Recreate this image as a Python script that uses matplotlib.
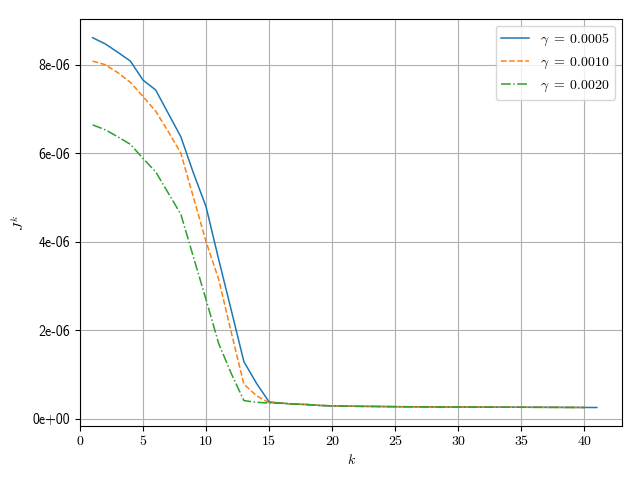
import numpy as np
from matplotlib import pyplot as plt

plt.rcParams['mathtext.fontset'] = 'cm'

gammas = ["0.0005", "0.0010", "0.0020"]
styles = ['-', '--', '-.']

tail = [0.35, 0.33, 0.32, 0.30, 0.29, 0.285, 0.28, 0.278, 0.275, 0.272,
        0.27, 0.268, 0.266, 0.265, 0.264, 0.263, 0.262, 0.261, 0.26, 0.259,
        0.258, 0.257, 0.256, 0.255, 0.254]

j_a = [8.61, 8.47, 8.28, 8.08, 7.65, 7.43, 6.90, 6.37, 5.55, 4.79,
       3.60, 2.45, 1.29, 0.80, 0.38] + tail + [0.253]
j_b = [8.08, 8.00, 7.82, 7.60, 7.28, 6.95, 6.49, 6.00, 5.00, 4.00,
       3.15, 1.95, 0.78, 0.52, 0.36] + tail
j_c = [6.64, 6.53, 6.37, 6.20, 5.88, 5.58, 5.10, 4.62, 3.65, 2.69,
       1.70, 1.02, 0.41, 0.37, 0.355] + tail


def main():
    fig, ax = plt.subplots(figsize=(6.4, 4.8), dpi=100)
    for vals, g, ls in zip([j_a, j_b, j_c], gammas, styles):
        k = np.arange(1, len(vals) + 1)
        ax.plot(k, np.array(vals) * 1e-6, ls, lw=1.1,
                label=r'$\gamma\;=\;%s$' % g)

    ax.set_xlim(0, 43)
    ax.set_xticks(np.arange(0, 45, 5))
    ax.set_xticklabels([str(t) for t in range(0, 45, 5)], fontfamily='cmr10')
    yt = np.arange(0, 9e-6, 2e-6)
    ax.set_yticks(yt)
    ax.set_yticklabels(['%.0e' % t for t in yt], fontfamily='cmss10')
    ax.grid(True)
    ax.set_xlabel(r'$k$')
    ax.set_ylabel(r'$J^k$')
    ax.legend(loc='upper right')
    fig.subplots_adjust(left=0.125, right=0.972, top=0.96, bottom=0.1125)
    fig.savefig('out.png')


if __name__ == "__main__":
    main()
